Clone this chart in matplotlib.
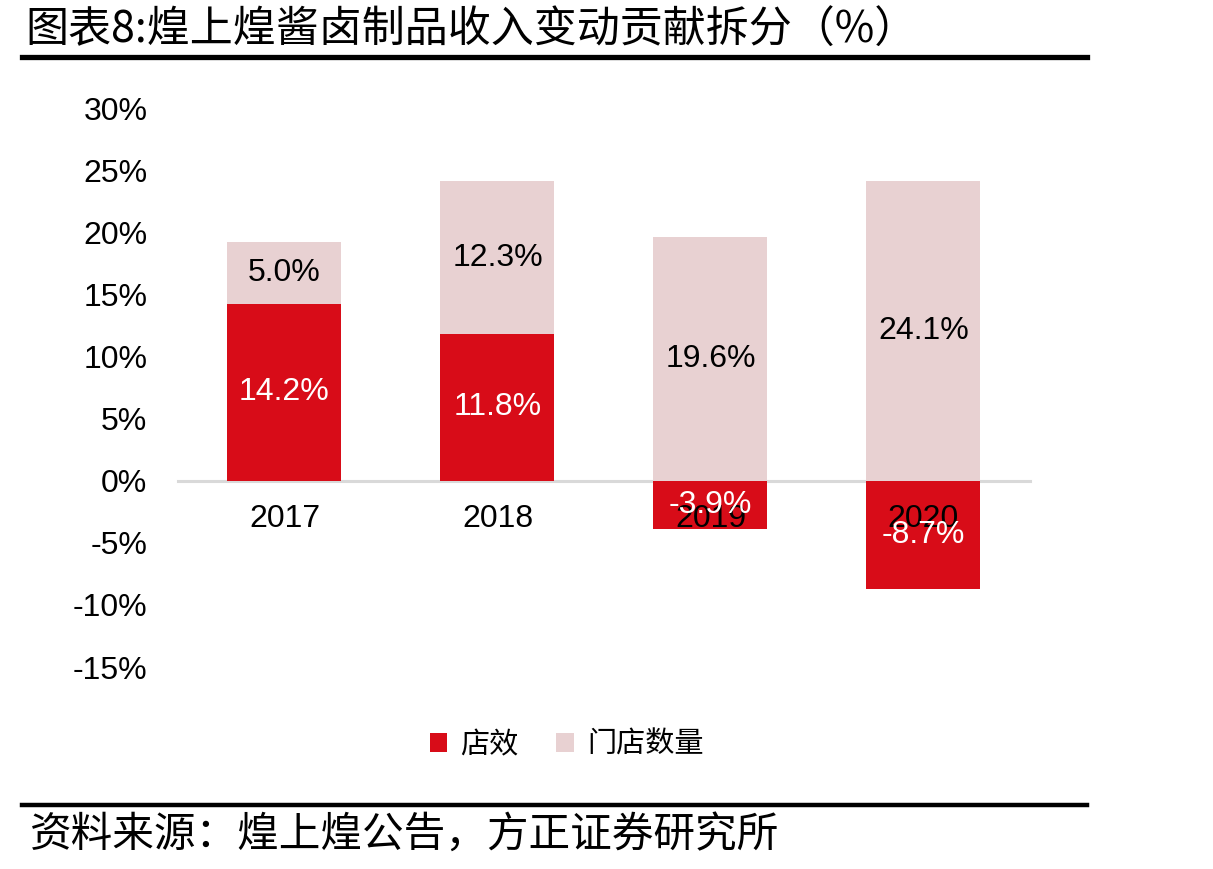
import matplotlib
matplotlib.use('Agg')
import matplotlib.pyplot as plt
from matplotlib.lines import Line2D

plt.rcParams['font.family'] = ['Liberation Sans', 'Noto Sans CJK SC', 'DejaVu Sans']

# data (%)
years = ['2017', '2018', '2019', '2020']
store_eff = [14.2, 11.8, -3.9, -8.7]      # 店效
store_cnt = [5.0, 12.3, 19.6, 24.1]       # 门店数量

RED = '#D80C18'
PINK = '#E8D1D2'

fig = plt.figure(figsize=(12.13, 8.69), dpi=100)
ax = fig.add_axes([0.1467, 0.2324, 0.7024, 0.6433])

x = range(len(years))
# pink segment sits on top of positive red, or starts at zero when red is negative
bottoms = [v if v > 0 else 0 for v in store_eff]

b1 = ax.bar(x, store_eff, width=0.535, color=RED, label='店效')
b2 = ax.bar(x, store_cnt, width=0.535, bottom=bottoms, color=PINK, label='门店数量')

ax.bar_label(b1, labels=[f'{v:.1f}%' for v in store_eff], label_type='center',
             color='white', fontsize=23)
ax.bar_label(b2, labels=[f'{v:.1f}%' for v in store_cnt], label_type='center',
             color='black', fontsize=23)

ax.set_xlim(-0.5, 3.5)
ax.set_ylim(-15, 30)
ax.set_yticks(range(-15, 31, 5))
ax.set_yticklabels([f'{t}%' for t in range(-15, 31, 5)])
ax.set_xticks(list(x))
ax.set_xticklabels(years)

for s in ['top', 'right', 'left']:
    ax.spines[s].set_visible(False)
ax.spines['bottom'].set_position(('data', 0))
ax.spines['bottom'].set_color('#D9D9D9')
ax.spines['bottom'].set_linewidth(2.2)
ax.spines['bottom'].set_zorder(0.5)
ax.tick_params(axis='y', length=0, pad=22, labelsize=23)
ax.tick_params(axis='x', length=0, pad=17, labelsize=23)

fig.legend(handles=[b1, b2], labels=['店效', '门店数量'], loc='center',
           bbox_to_anchor=(0.467, 0.1427), ncol=2, frameon=False,
           handlelength=0.6, handleheight=0.6,
           handletextpad=0.45, columnspacing=1.3,
           prop={'family': ['Noto Sans CJK SC'], 'size': 21})

# title and rules
fig.text(0.0206, 0.965, '图表8:煌上煌酱卤制品收入变动贡献拆分（%）', fontsize=31,
         ha='left', va='center', family=['Noto Sans CJK SC', 'DejaVu Sans'])
fig.add_artist(Line2D([0.018, 0.896], [0.9344, 0.9344], color='black', lw=3.8,
                      transform=fig.transFigure))
fig.add_artist(Line2D([0.018, 0.896], [0.0737, 0.0737], color='black', lw=3.2,
                      transform=fig.transFigure))
fig.text(0.025, 0.039, '资料来源：煌上煌公告，方正证券研究所', fontsize=30,
         ha='left', va='center', family=['Noto Sans CJK SC', 'DejaVu Sans'])

fig.savefig('out.png', dpi=100, facecolor='white')
